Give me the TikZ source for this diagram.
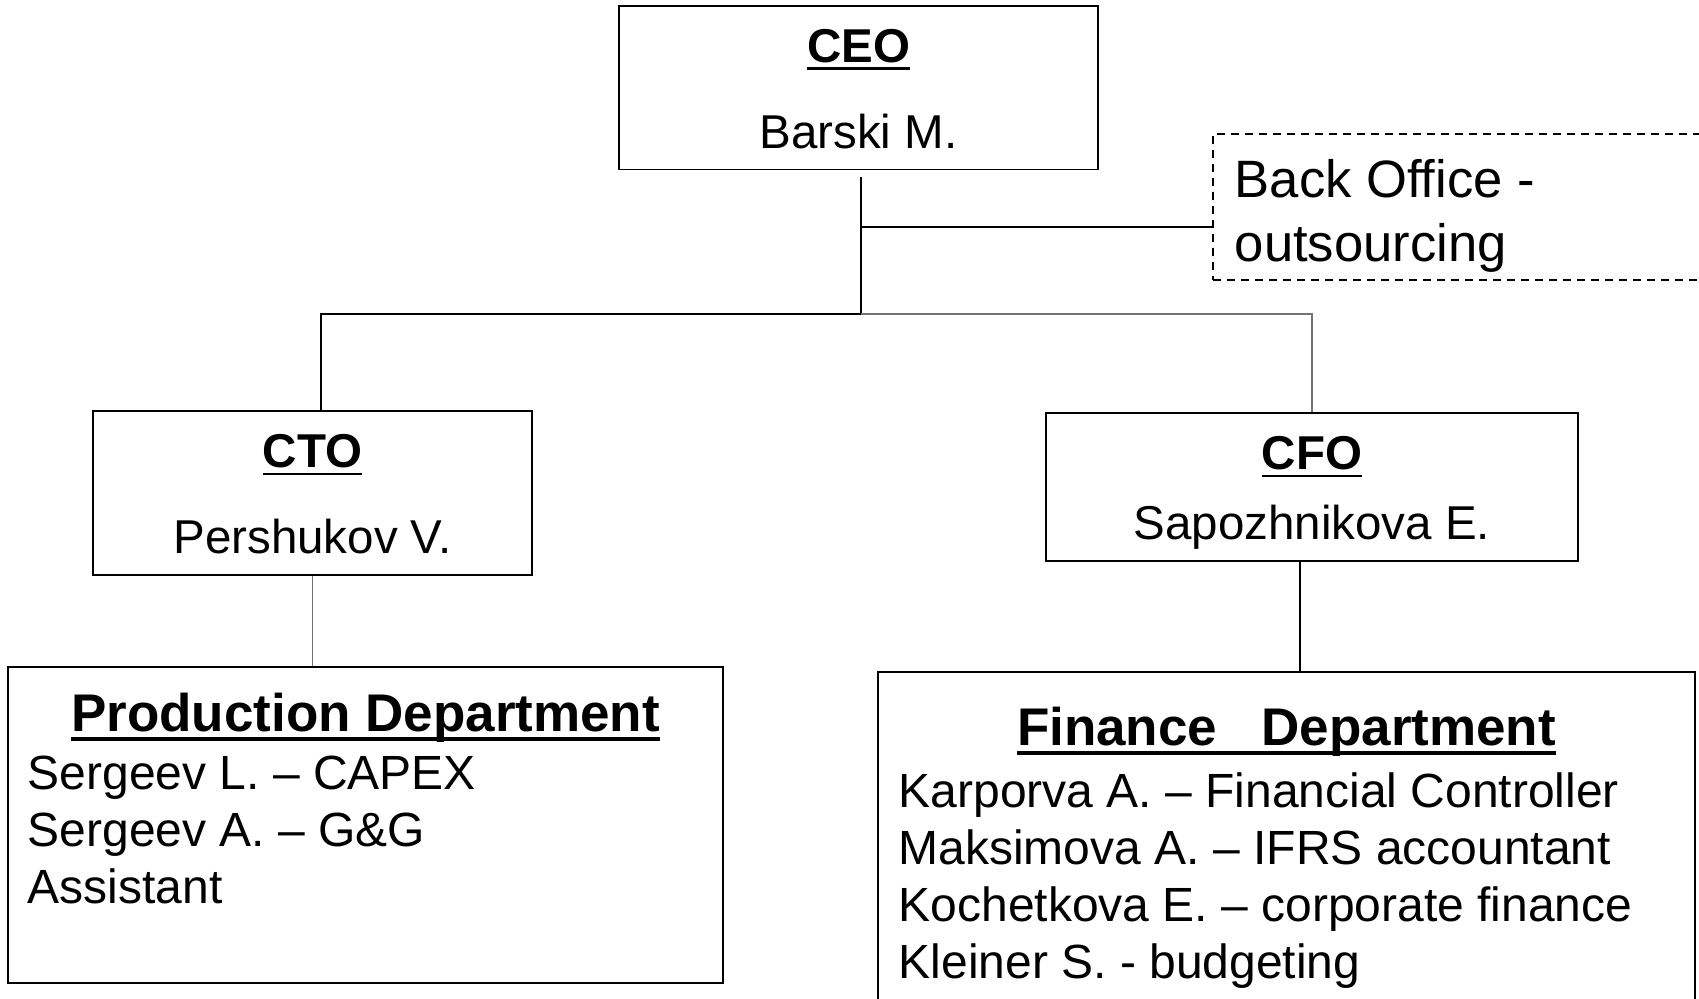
\documentclass[tikz,border=0pt]{standalone}
\usepackage{fontspec}
\setmainfont{Liberation Sans}
\usetikzlibrary{positioning}

\tikzset{
  rolebox/.style={draw, line width=0.75pt, inner sep=0pt},
  roletext/.style={inner sep=0pt, align=center, font=\fontsize{23.75}{43}\selectfont},
  outsrcbox/.style={draw, dash pattern=on 4pt off 3pt, line width=0.6pt,
    minimum width=253.5pt, minimum height=73pt},
  outsrctext/.style={inner sep=0pt, align=left, font=\fontsize{26.3}{32}\selectfont},
  deptbox/.style={draw, line width=0.75pt, inner sep=0pt},
  depttitle/.style={inner sep=0pt, font=\fontsize{26.5}{30}\selectfont\bfseries},
  staff/.style={inner sep=0pt, align=left, font=\fontsize{24}{28.5}\selectfont},
  link/.style={line width=1pt},
  thinlink/.style={line width=0.6pt, black!55},
}
% thickness, depth below baseline, text
\newcommand{\heavyline}[3]{\setbox0=\hbox{#3}\rlap{\rule[-#2]{\wd0}{#1}}\box0}
\newcommand{\roletitle}[1]{\heavyline{1.3pt}{3.8pt}{\textbf{#1}}}
\newcommand{\depthead}[1]{\heavyline{1.8pt}{5pt}{#1}}

\begin{document}
\begin{tikzpicture}[x=0.5pt, y=-0.5pt]
  \useasboundingbox (0,0) rectangle (1699,999);
  % boxes
  \node[rolebox, minimum width=239.5pt, minimum height=81.75pt] (ceo) at (858.5,88) {};
  \node[roletext, below=11.6pt of ceo.north] (ceotext) {\roletitle{CEO}\\Barski M.};
  \node[outsrcbox] (bo) at (1466.5,207) {};
  \node[outsrctext, below right=13pt and 11pt of bo.north west] (botext) {Back Office -\\outsourcing};
  \node[rolebox, minimum width=219.5pt, minimum height=82pt] (cto) at (312.5,493) {};
  \node[roletext, below=11.85pt of cto.north] (ctotext) {\roletitle{CTO}\\Pershukov V.};
  \node[rolebox, minimum width=266pt, minimum height=74pt] (cfo) at (1312,487) {};
  \node[roletext, below=11.85pt of cfo.north, font=\fontsize{23.75}{35}\selectfont] (cfotext) {\roletitle{CFO}\\Sapozhnikova E.};

  \node[deptbox, minimum width=357.5pt, minimum height=158pt] (prod) at (365.5,825) {};
  \node[depttitle, below=13pt of prod.north] (prodtitle) {\depthead{Production Department}};
  \node[staff, below right=44.5pt and 10pt of prod.north west] (prodstaff) {Sergeev L. – CAPEX\\Sergeev A. – G\&G\\Assistant};

  \node[deptbox, minimum width=408.5pt, minimum height=179pt] (fin) at (1286.5,851) {};
  \node[depttitle, below=17.5pt of fin.north] (fintitle) {\depthead{Finance\ \ \ Department}};
  \node[staff, below right=50.5pt and 10.5pt of fin.north west] (finstaff) {Karporva A. – Financial Controller\\Maksimova A. – IFRS accountant\\Kochetkova E. – corporate finance\\Kleiner S. - budgeting};

  % connectors
  \coordinate (split) at (861,314);
  \coordinate (botap) at (861,227);
  \draw[link] ([xshift=1.25pt,yshift=-3.5pt]ceo.south) -- (split) -| ([xshift=4.25pt]cto.north);
  \draw[link] (botap) -- (botap -| bo.west);
  \draw[thinlink] (split) -| (cfo.north);
  \draw[thinlink] (cto.south) -- (cto.south |- prod.north);
  \draw[line width=0.75pt] ([xshift=-6pt]cfo.south) -- ([xshift=-6pt]cfo.south |- fin.north);
\end{tikzpicture}
\end{document}
